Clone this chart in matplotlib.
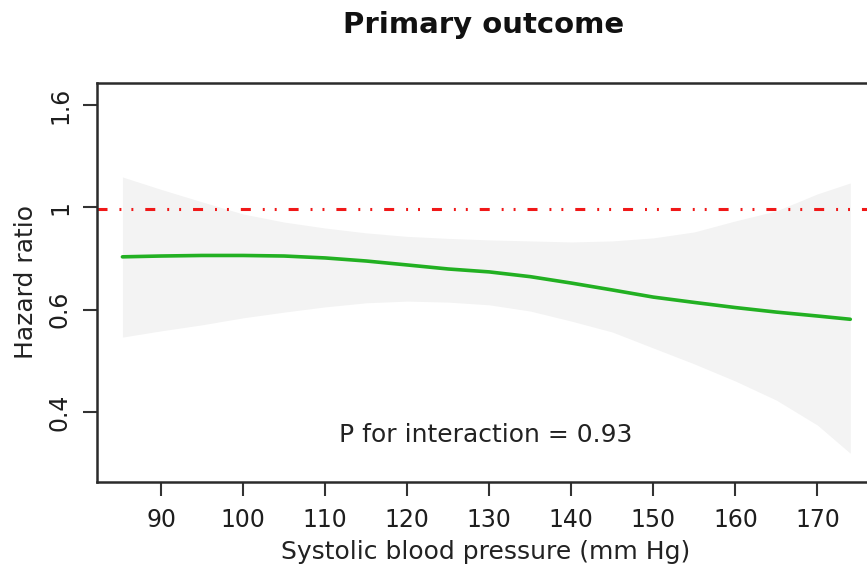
import numpy as np
import matplotlib
matplotlib.use("Agg")
import matplotlib.pyplot as plt

plt.rcParams['font.family'] = ['DejaVu Sans']
plt.rcParams['lines.scale_dashes'] = False

# systolic blood pressure (mm Hg)
sbp = [85.3, 90, 95, 100, 105, 110, 115, 120, 125, 130, 135, 140, 145, 150, 155, 160, 165, 170, 174]
# hazard ratio curve and its confidence band
hr = [0.806, 0.809, 0.811, 0.811, 0.809, 0.802, 0.791, 0.777, 0.763, 0.753,
      0.737, 0.716, 0.694, 0.672, 0.656, 0.641, 0.628, 0.617, 0.608]
hr_upper = [1.156, 1.093, 1.033, 0.978, 0.943, 0.918, 0.898, 0.884, 0.876, 0.870,
            0.866, 0.862, 0.866, 0.878, 0.902, 0.948, 0.992, 1.071, 1.125]
hr_lower = [0.561, 0.577, 0.593, 0.612, 0.628, 0.643, 0.655, 0.660, 0.657, 0.649,
            0.631, 0.603, 0.574, 0.534, 0.497, 0.460, 0.422, 0.377, 0.332]

x_ticks = [90, 100, 110, 120, 130, 140, 150, 160, 170]
y_ticks = np.geomspace(0.4, 1.6, 4)
y_tick_labels = ['0.4', '0.6', '1', '1.6']

fig = plt.figure(figsize=(8.67, 5.7), dpi=100)
W, H = 867, 570
# axes box: the right edge runs past the picture, like the cropped original
ax = fig.add_axes([97 / W, 1 - 482 / H, (879 - 97) / W, (482 - 83) / H])

ax.fill_between(sbp, hr_lower, hr_upper, color='#f3f3f3', lw=0)
ax.plot(sbp, hr, color='#22b022', lw=2.6, solid_capstyle='round')
ax.axhline(1, color='#f01818', lw=2.2, dashes=(7.2, 8.6, 1.4, 7.2, 1.4, 8.6))

ax.set_yscale('log')
ax.set_xlim(82.2, 177.5)
ax.set_ylim(0.2916, 1.767)

ax.set_xticks(x_ticks)
ax.set_xticklabels([str(v) for v in x_ticks])
ax.set_yticks(y_ticks)
ax.set_yticklabels(y_tick_labels)
ax.yaxis.set_minor_locator(matplotlib.ticker.NullLocator())

for s in ax.spines.values():
    s.set_linewidth(1.8)
    s.set_color('#2b2b2b')

ax.tick_params(axis='both', length=10, width=1.5, color='#333333',
               labelsize=17, labelcolor='#1e1e1e')
ax.tick_params(axis='x', pad=9)
ax.tick_params(axis='y', labelrotation=90, pad=8)
for lab in ax.get_yticklabels():
    lab.set_va('center')

ax.text(0.497, 0.118, 'P for interaction = 0.93', transform=ax.transAxes,
        ha='center', va='center', fontsize=18, color='#222222')

fig.text(484 / W, 1 - 25 / H, 'Primary outcome', ha='center', va='center',
         fontsize=21, fontweight='bold', color='#111111')
fig.text(486 / W, 1 - 552 / H, 'Systolic blood pressure (mm Hg)', ha='center', va='center',
         fontsize=18, color='#222222')
fig.text(26 / W, 1 - 282 / H, 'Hazard ratio', rotation=90, ha='center', va='center',
         fontsize=18, color='#222222')

fig.savefig('out.png', dpi=100)
